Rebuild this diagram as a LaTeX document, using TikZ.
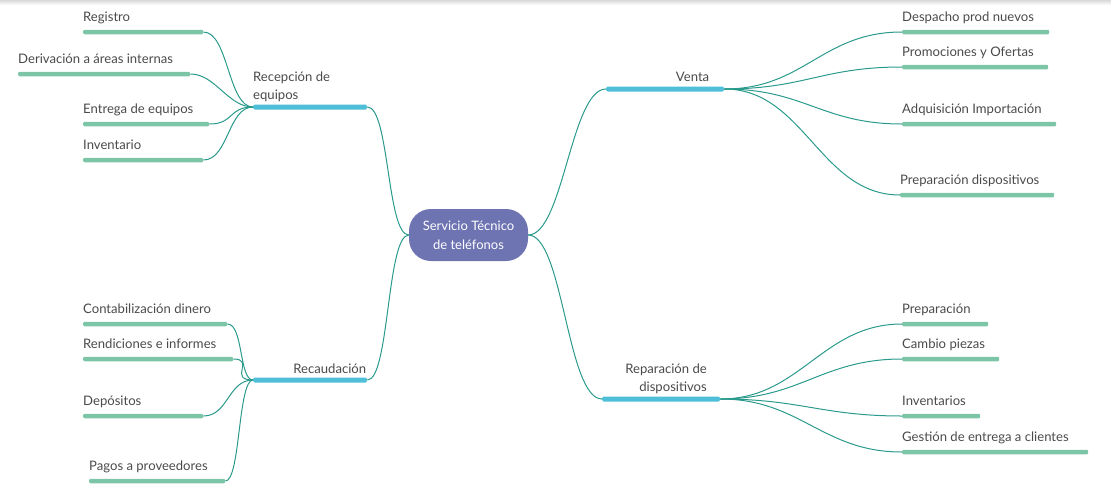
\documentclass[tikz,border=0pt]{standalone}
\usepackage{fontspec}
\setmainfont{Lato}
\usepackage{xcolor}
\usepackage{tikz}

\definecolor{hubfill}{HTML}{6E74B2}
\definecolor{branchblue}{HTML}{4FBFD9}
\definecolor{leafgreen}{HTML}{7DC5A7}
\definecolor{linkteal}{HTML}{2A9A8C}
\definecolor{labelgray}{HTML}{4A4A4A}
\newcommand{\mapfont}{\fontsize{13.1}{18}\selectfont}

\begin{document}
\begin{tikzpicture}[
    x=1pt, y=-1pt,
    hub/.style={fill=hubfill, text=white, rounded corners=22pt, minimum width=119pt,
      minimum height=52pt, align=center, inner sep=0pt,
      font=\fontsize{13}{19}\selectfont},
    branch/.style={fill=branchblue, rounded corners=1.5pt, minimum height=5pt,
      inner sep=0pt, anchor=west},
    leaf/.style={fill=leafgreen, rounded corners=1.2pt, minimum height=4.5pt,
      inner sep=0pt, anchor=west},
    lbl/.style={font=\mapfont, text=labelgray, inner sep=0pt, anchor=base west},
    link/.style={draw=linkteal, line width=1pt},
  ]
  \useasboundingbox (0,0) rectangle (1111,493);
  \shade[top color=gray!30, bottom color=white] (0,0) rectangle (1111,5);

  % Central topic
  \node[hub] (hub) at (468.5,235) {Servicio Técnico\\de teléfonos};

  % Recepción de equipos
  \node[branch, minimum width=114pt] (rec) at (253,107) {};
  \node[lbl, align=left] (rec-t) at (253,99) {Recepción de\\equipos};
  \node[leaf, minimum width=120pt] (reg) at (83,32) {};
  \node[lbl] (reg-t) at ([yshift=10.5pt]reg.west) {Registro};
  \node[leaf, minimum width=172pt] (der) at (18,74) {};
  \node[lbl] (der-t) at ([yshift=10.5pt]der.west) {Derivación a áreas internas};
  \node[leaf, minimum width=126pt] (ent) at (83,124) {};
  \node[lbl] (ent-t) at ([yshift=10.5pt]ent.west) {Entrega de equipos};
  \node[leaf, minimum width=120pt] (inv) at (83,160) {};
  \node[lbl] (inv-t) at ([yshift=10.5pt]inv.west) {Inventario};

  % Venta
  \node[branch, minimum width=118pt] (venta) at (606,89) {};
  \node[lbl, anchor=base east] (venta-t) at ([xshift=-15pt, yshift=8pt]venta.east) {Venta};
  \node[leaf, minimum width=147pt] (desp) at (902,32) {};
  \node[lbl] (desp-t) at ([yshift=10.5pt]desp.west) {Despacho prod nuevos};
  \node[leaf, minimum width=146pt] (prom) at (902,67) {};
  \node[lbl] (prom-t) at ([yshift=10.5pt]prom.west) {Promociones y Ofertas};
  \node[leaf, minimum width=154pt] (adq) at (902,124) {};
  \node[lbl] (adq-t) at ([yshift=10.5pt]adq.west) {Adquisición Importación};
  \node[leaf, minimum width=154pt] (prdis) at (900,195) {};
  \node[lbl] (prdis-t) at ([yshift=10.5pt]prdis.west) {Preparación dispositivos};

  % Reparación de dispositivos
  \node[branch, minimum width=118pt] (rep) at (602,399) {};
  \node[lbl, align=right, anchor=base east] (rep-t) at (707,391) {Reparación de\\dispositivos};
  \node[leaf, minimum width=86pt] (prep) at (902,324) {};
  \node[lbl] (prep-t) at ([yshift=10.5pt]prep.west) {Preparación};
  \node[leaf, minimum width=97pt] (camb) at (902,359) {};
  \node[lbl] (camb-t) at ([yshift=10.5pt]camb.west) {Cambio piezas};
  \node[leaf, minimum width=78pt] (invs) at (902,416) {};
  \node[lbl] (invs-t) at ([yshift=10.5pt]invs.west) {Inventarios};
  \node[leaf, minimum width=186pt] (gest) at (902,452) {};
  \node[lbl] (gest-t) at ([yshift=10.5pt]gest.west) {Gestión de entrega a clientes};

  % Recaudación
  \node[branch, minimum width=114pt] (rau) at (253,380) {};
  \node[lbl, anchor=base east] (rau-t) at ([xshift=-1pt, yshift=7pt]rau.east) {Recaudación};
  \node[leaf, minimum width=144pt] (cont) at (83,324) {};
  \node[lbl] (cont-t) at ([yshift=10.5pt]cont.west) {Contabilización dinero};
  \node[leaf, minimum width=150pt] (rend) at (83,359) {};
  \node[lbl] (rend-t) at ([yshift=10.5pt]rend.west) {Rendiciones e informes};
  \node[leaf, minimum width=120pt] (dep) at (83,416) {};
  \node[lbl] (dep-t) at ([yshift=10.5pt]dep.west) {Depósitos};
  \node[leaf, minimum width=136pt] (pag) at (89,481) {};
  \node[lbl] (pag-t) at ([yshift=10.5pt]pag.west) {Pagos a proveedores};

  % Hub to branches
  \draw[link] (hub.west) .. controls +(-22,0) and +(22,0) .. (rec.east);
  \draw[link] (hub.west) .. controls +(-22,0) and +(22,0) .. (rau.east);
  \draw[link] (hub.east) .. controls +(35,0) and +(-35,0) .. (venta.west);
  \draw[link] (hub.east) .. controls +(35,0) and +(-35,0) .. (rep.west);

  % Branches to leaves
  \foreach \leafname in {reg, der, ent, inv}
    \draw[link] (\leafname.east) .. controls +(25,0) and +(-25,0) .. (rec.west);
  \foreach \leafname in {desp, prom, adq, prdis}
    \draw[link] (venta.east) .. controls +(80,0) and +(-80,0) .. (\leafname.west);
  \foreach \leafname in {prep, camb, invs, gest}
    \draw[link] (rep.east) .. controls +(80,0) and +(-80,0) .. (\leafname.west);
  \draw[link] (cont.east) .. controls +(16,0) and +(-14,0) .. (rau.west);
  \draw[link] (rend.east) .. controls +(22,0) and +(-25,0) .. (rau.west);
  \draw[link] (dep.east) .. controls +(25,0) and +(-25,0) .. (rau.west);
  \draw[link] (pag.east) .. controls +(15,0) and +(-15,0) .. (rau.west);
\end{tikzpicture}
\end{document}
